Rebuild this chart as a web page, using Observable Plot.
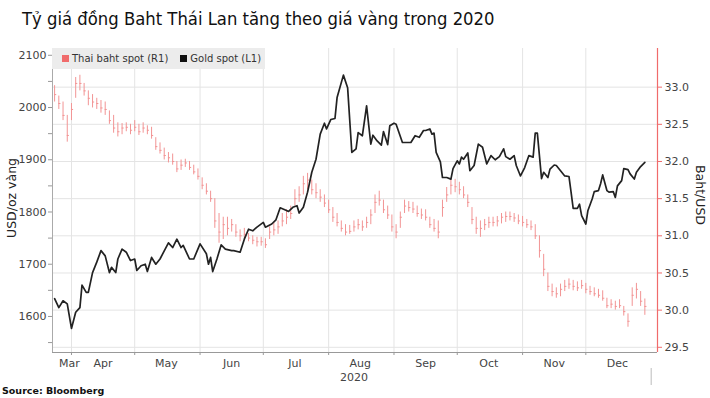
<!DOCTYPE html>
<html><head><meta charset="utf-8">
<script src="https://cdn.jsdelivr.net/npm/d3@7"></script>
<script src="https://cdn.jsdelivr.net/npm/@observablehq/plot@0.6"></script>
<style>
body{margin:0;background:#fff;font-family:"DejaVu Sans",sans-serif;}
#page{position:relative;width:710px;height:398px;overflow:hidden;background:#fff}
#title{position:absolute;left:22px;top:8px;font-family:"DejaVu Sans Condensed","DejaVu Sans",sans-serif;font-size:18.3px;color:#111;white-space:nowrap}
#chart{position:absolute;left:0;top:40px;width:710px;height:345px}
#chart svg{position:absolute;left:0;top:0}
#legend{position:absolute;left:52px;top:48px;width:213px;height:21px;background:#ececec;font-size:10px;color:#333;display:flex;align-items:center;white-space:nowrap}
#legend .sw{display:inline-block;width:7px;height:7px;margin:0 3px 0 0}
.ytitle{position:absolute;white-space:nowrap;font-size:12.5px;color:#222;transform:translate(-50%,-50%) rotate(-90deg)}
#source{position:absolute;left:2px;top:385px;font-weight:bold;font-size:9.5px;color:#111;white-space:nowrap}
</style></head>
<body>
<div id="page">
  <div id="title">Tỷ giá đồng Baht Thái Lan tăng theo giá vàng trong 2020</div>
  <div id="chart"></div>
  <div id="legend"><span class="sw" style="background:#f06b6b;margin-left:10px"></span>Thai baht spot (R1)<span class="sw" style="background:#111;margin-left:12px"></span>Gold spot (L1)</div>
  <div class="ytitle" id="lt" style="left:11px;top:198px">USD/oz vàng</div>
  <div class="ytitle" id="rt" style="left:700px;top:195px;transform:translate(-50%,-50%) rotate(90deg)">Baht/USD</div>
  <div id="source">Source: Bloomberg</div>
</div>
<script>
// ---- Gold spot (L1), USD/oz ----
const goldDates = ["03-24","03-26","03-28","03-30","04-01","04-03","04-05","04-06","04-08","04-09","04-11","04-13","04-15","04-17","04-19","04-20","04-22","04-23","04-25","04-27","04-29",
"05-01","05-02","05-04","05-06","05-07","05-09","05-11","05-13","05-17","05-19","05-21","05-23","05-24","05-27","05-29",
"06-01","06-04","06-05","06-06","06-07","06-09","06-11","06-13","06-16","06-17","06-20","06-22","06-24","06-26","06-28",
"07-01","07-02","07-05","07-07","07-09","07-12","07-13","07-15","07-17","07-18","07-20","07-22","07-24","07-26","07-28","07-30","07-31",
"08-02","08-04","08-05","08-08","08-10","08-12","08-14","08-15","08-17","08-19","08-21","08-22","08-24","08-26","08-27","08-29","08-30",
"09-01","09-02","09-05","09-07","09-09","09-11","09-13","09-15","09-16","09-18","09-19","09-20","09-21","09-23","09-24","09-26","09-28","09-29",
"10-01","10-02","10-03","10-04","10-06","10-07","10-09","10-11","10-13","10-15","10-17","10-19","10-21","10-23","10-24","10-26","10-28","10-29","10-31",
"11-02","11-04","11-06","11-07","11-08","11-10","11-11","11-13","11-14","11-16","11-17","11-19","11-21","11-23","11-24","11-25","11-27","11-28","11-29",
"12-01","12-02","12-04","12-05","12-07","12-08","12-09","12-11","12-12","12-14","12-15","12-16","12-18","12-19","12-21","12-22","12-24","12-25","12-27","12-29"];
const goldValues = [1634,1617,1630,1624,1577,1608,1617,1660,1646,1646,1684,1704,1726,1716,1684,1694,1684,1710,1729,1723,1707,
1710,1688,1697,1700,1686,1713,1700,1710,1741,1732,1748,1732,1736,1710,1710,
1739,1720,1700,1713,1686,1710,1737,1729,1726,1726,1723,1748,1767,1764,1771,
1780,1771,1777,1785,1808,1803,1801,1809,1812,1798,1809,1838,1876,1901,1949,1970,1959,
1977,1979,2019,2062,2038,1914,1921,1952,1946,2003,1930,1947,1936,1928,1954,1929,1965,
1970,1968,1933,1933,1933,1946,1943,1956,1956,1959,1949,1951,1914,1896,1866,1866,1863,1883,
1898,1892,1905,1901,1913,1879,1889,1930,1924,1892,1908,1900,1906,1921,1906,1901,1908,1889,1869,
1885,1908,1905,1951,1951,1864,1876,1866,1882,1890,1889,1879,1869,1868,1838,1807,1807,1815,1793,
1777,1803,1825,1839,1841,1854,1871,1841,1838,1839,1828,1850,1860,1883,1881,1873,1863,1876,1887,1895];

// ---- Thai baht spot (R1), Baht/USD, bars every two days ----
const thbDates = ["03-24","03-26","03-28","03-30",
"04-01","04-03","04-05","04-07","04-09","04-11","04-13","04-15","04-17","04-19","04-21","04-23","04-25","04-27","04-29",
"05-01","05-03","05-05","05-07","05-09","05-11","05-13","05-15","05-17","05-19","05-21","05-23","05-25","05-27","05-29","05-31",
"06-02","06-04","06-06","06-08","06-10","06-12","06-14","06-16","06-18","06-20","06-22","06-24","06-26","06-28","06-30",
"07-02","07-04","07-06","07-08","07-10","07-12","07-14","07-16","07-18","07-20","07-22","07-24","07-26","07-28","07-30",
"08-01","08-03","08-05","08-07","08-09","08-11","08-13","08-15","08-17","08-19","08-21","08-23","08-25","08-27","08-29","08-31",
"09-02","09-04","09-06","09-08","09-10","09-12","09-14","09-16","09-18","09-20","09-22","09-24","09-26","09-28","09-30",
"10-02","10-04","10-06","10-08","10-10","10-12","10-14","10-16","10-18","10-20","10-22","10-24","10-26","10-28","10-30",
"11-01","11-03","11-05","11-07","11-09","11-11","11-13","11-15","11-17","11-19","11-21","11-23","11-25","11-27","11-29",
"12-01","12-03","12-05","12-07","12-09","12-11","12-13","12-15","12-17","12-19","12-21","12-23","12-25","12-27","12-29"];
const thbLow = [32.80,32.70,32.55,32.26,
32.55,32.85,32.95,32.88,32.75,32.72,32.70,32.65,32.62,32.50,32.38,32.33,32.36,32.40,32.36,
32.40,32.35,32.38,32.36,32.30,32.15,32.10,32.02,31.98,31.95,31.85,31.88,31.92,31.88,31.82,31.75,
31.62,31.55,31.45,31.10,30.90,30.95,31.00,31.05,30.98,30.92,30.95,30.92,30.88,30.85,30.86,
30.83,30.95,31.00,31.02,31.12,31.15,31.22,31.40,31.45,31.55,31.62,31.55,31.50,31.45,31.38,
31.30,31.18,31.12,31.05,31.00,31.02,31.05,31.08,31.06,31.10,31.15,31.30,31.40,31.30,31.22,31.05,
30.96,31.10,31.30,31.32,31.30,31.25,31.22,31.20,31.10,31.05,30.96,31.25,31.45,31.55,31.58,
31.55,31.50,31.38,31.15,31.02,30.98,31.07,31.10,31.12,31.12,31.16,31.18,31.20,31.18,31.15,
31.12,31.10,31.07,30.95,30.70,30.45,30.25,30.18,30.16,30.18,30.25,30.28,30.26,30.25,30.28,
30.22,30.20,30.18,30.16,30.12,30.02,30.02,30.00,30.02,29.92,29.77,30.05,30.15,30.05,29.93];
const thbHigh = [33.02,32.88,32.80,32.62,
32.78,33.13,33.16,33.05,32.95,32.90,32.85,32.82,32.80,32.68,32.62,32.52,32.51,32.52,32.50,
32.55,32.50,32.52,32.48,32.46,32.32,32.25,32.18,32.12,32.10,32.00,32.02,32.03,32.00,31.95,31.90,
31.78,31.70,31.60,31.50,31.30,31.25,31.25,31.22,31.15,31.08,31.10,31.03,31.00,30.98,30.98,
30.96,31.12,31.18,31.20,31.30,31.35,31.40,31.62,31.66,31.80,31.84,31.75,31.70,31.62,31.55,
31.48,31.38,31.30,31.20,31.15,31.14,31.20,31.22,31.20,31.25,31.35,31.55,31.60,31.48,31.40,31.28,
31.15,31.32,31.48,31.46,31.45,31.40,31.36,31.35,31.25,31.22,31.20,31.48,31.65,31.75,31.76,
31.72,31.66,31.55,31.38,31.25,31.20,31.22,31.25,31.25,31.26,31.30,31.32,31.32,31.30,31.28,
31.26,31.22,31.20,31.15,31.00,30.75,30.50,30.35,30.30,30.35,30.40,30.42,30.40,30.38,30.40,
30.36,30.32,30.30,30.28,30.26,30.16,30.14,30.12,30.14,30.05,29.95,30.30,30.36,30.25,30.15];
const thbClose = [32.90,32.78,32.62,32.35,
32.70,33.05,33.05,32.95,32.85,32.80,32.78,32.72,32.70,32.55,32.45,32.40,32.45,32.46,32.42,
32.46,32.40,32.45,32.42,32.35,32.20,32.15,32.08,32.05,32.00,31.90,31.95,31.98,31.92,31.86,31.80,
31.68,31.60,31.50,31.20,31.05,31.15,31.10,31.15,31.05,31.00,31.02,30.97,30.94,30.92,30.92,
30.88,31.05,31.08,31.12,31.20,31.25,31.30,31.50,31.55,31.70,31.75,31.62,31.58,31.52,31.44,
31.35,31.25,31.18,31.10,31.05,31.06,31.12,31.15,31.12,31.18,31.28,31.45,31.48,31.35,31.28,31.12,
31.05,31.25,31.40,31.38,31.36,31.30,31.28,31.25,31.15,31.10,31.05,31.38,31.55,31.68,31.66,
31.62,31.55,31.45,31.22,31.10,31.10,31.15,31.18,31.18,31.20,31.25,31.26,31.26,31.24,31.20,
31.18,31.15,31.12,31.00,30.80,30.55,30.32,30.25,30.22,30.28,30.32,30.35,30.32,30.30,30.33,
30.28,30.25,30.22,30.20,30.16,30.06,30.08,30.05,30.06,29.98,29.85,30.20,30.28,30.12,30.05];

// ---- Axes ----
const leftTicks = [1600, 1700, 1800, 1900, 2000, 2100];
const leftMinorTicks = [1550, 1650, 1750, 1850, 1950, 2050];
const rightTicks = [29.5, 30.0, 30.5, 31.0, 31.5, 32.0, 32.5, 33.0];
const monthStarts = ["2020-04-01","2020-05-01","2020-06-01","2020-07-01","2020-08-01","2020-09-01","2020-10-01","2020-11-01","2020-12-01"];
const monthLabels = ["Mar","Apr","May","Jun","Jul","Aug","Sep","Oct","Nov","Dec"];
const monthLabelDates = ["2020-03-31","2020-04-16","2020-05-16","2020-06-16","2020-07-16","2020-08-16","2020-09-16","2020-10-16","2020-11-16","2020-12-16"];
const yearLabel = "2020";
const yearLabelDate = "2020-08-13";
const yearEnd = "2021-01-01";
const xDomain = ["2020-03-23", "2021-01-04"];
const goldDomain = [1531, 2113];
const thbDomain = [29.43, 33.52];

const P = (s) => new Date(s.length === 5 ? "2020-" + s : s);
const gold = goldDates.map((d, i) => ({date: P(d), value: goldValues[i]}));
const thb = thbDates.map((d, i) => ({date: P(d), low: thbLow[i], high: thbHigh[i], close: thbClose[i]}));
const months = monthLabels.map((m, i) => ({date: P(monthLabelDates[i]), label: m}));

const common = {
  width: 710, height: 345, marginTop: 8, marginBottom: 33, marginLeft: 52, marginRight: 53,
  style: {fontFamily: "DejaVu Sans", fontSize: "11px", color: "#444", background: "transparent"}
};
const pink = "#f29494";
const red = "#f06b6b";

const back = Plot.plot({
  ...common,
  x: {type: "utc", domain: xDomain.map(P), axis: null},
  y: {domain: thbDomain, axis: null},
  marks: [
    Plot.gridY(rightTicks, {stroke: "#e4e4e4", strokeOpacity: 1}),
    Plot.gridX(monthStarts.map(P), {stroke: "#e4e4e4", strokeOpacity: 1}),
    Plot.ruleX(thb, {x: "date", y1: "low", y2: "high", stroke: pink, strokeWidth: 1}),
    Plot.ruleY(thb, {y: "close", x1: "date", x2: d => new Date(+d.date + 86400000), stroke: pink, strokeWidth: 1}),
    Plot.ruleX([P(xDomain[1])], {stroke: red, strokeWidth: 1.2}),
    Plot.axisY(rightTicks, {anchor: "right", tickFormat: ".1f", stroke: red, tickSize: 4, tickPadding: 3, label: null, fill: "#444"})
  ]
});

const front = Plot.plot({
  ...common,
  x: {type: "utc", domain: xDomain.map(P), axis: null},
  y: {domain: goldDomain, axis: null},
  marks: [
    Plot.ruleX([P(xDomain[0])], {stroke: "#aaa"}),
    Plot.ruleY([goldDomain[0]], {stroke: "#999"}),
    Plot.axisY(leftMinorTicks, {anchor: "left", tickSize: 4, stroke: "#999", tickFormat: () => "", label: null}),
    Plot.axisY(leftTicks, {anchor: "left", tickSize: 4, tickPadding: 2, stroke: "#999", tickFormat: d => String(d), label: null, fill: "#444"}),
    Plot.axisX(monthStarts.map(P), {tickSize: 3, stroke: "#999", tickFormat: () => "", label: null}),
    Plot.axisX([P(yearEnd)], {tickSize: 17, dy: 16, stroke: "#bbb", tickFormat: () => "", label: null}),
    Plot.text(months, {x: "date", text: "label", frameAnchor: "bottom", dy: 14, fill: "#444"}),
    Plot.text([yearLabel], {x: P(yearLabelDate), text: d => d, frameAnchor: "bottom", dy: 28, fill: "#444"}),
    Plot.line(gold, {x: "date", y: "value", stroke: "#222", strokeWidth: 1.7, curve: "linear"})
  ]
});

document.getElementById("chart").append(back, front);
</script>
</body></html>
